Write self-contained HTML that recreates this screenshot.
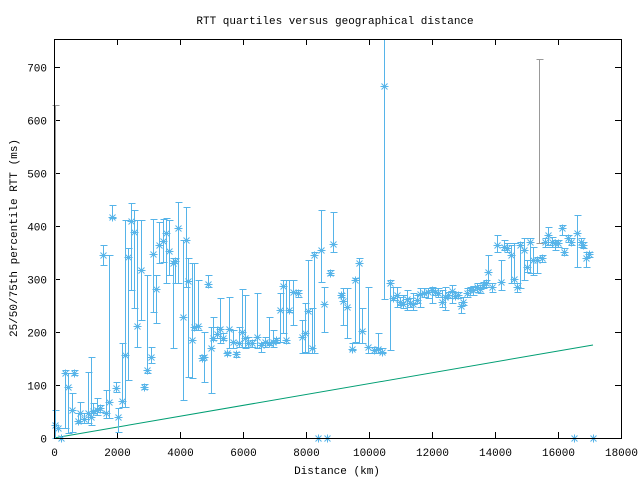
<!DOCTYPE html>
<html><head><meta charset="utf-8"><style>
html,body{margin:0;padding:0;background:#fff;}
svg{display:block;font-family:"Liberation Mono",monospace;font-size:11px;}
</style></head><body>
<svg id="s" width="640" height="480" xmlns="http://www.w3.org/2000/svg">
<rect x="0" y="0" width="640" height="480" fill="#fff"/>
<text x="335" y="24" text-anchor="middle">RTT quartiles versus geographical distance</text>
<text x="337" y="474" text-anchor="middle">Distance (km)</text>
<text transform="translate(17,238) rotate(-90)" text-anchor="middle">25/50/75th percentile RTT (ms)</text>
<g id="ax" stroke="#000" stroke-width="1" fill="none"></g>
<g id="tl"></g>
<polyline points="54,438 593,345" stroke="#009e73" stroke-width="1" fill="none"/>
<g id="gr" stroke="#999" stroke-width="1" fill="none"></g>
<g id="pts" stroke="#56b4e9" stroke-width="1" fill="none"></g>
<rect x="54.5" y="39.5" width="567" height="399" fill="none" stroke="#000"/>
</svg>
<script>
var ns="http://www.w3.org/2000/svg";
function el(p,t,a,txt){var e=document.createElementNS(ns,t);for(var k in a)e.setAttribute(k,a[k]);if(txt!=null)e.textContent=txt;document.getElementById(p).appendChild(e);}
for(var v=0;v<=700;v+=100){var y=Math.round(438-v*0.53)+0.5;
 el("ax","line",{x1:54,y1:y,x2:60,y2:y});el("ax","line",{x1:621,y1:y,x2:615,y2:y});
 el("tl","text",{x:47,y:y+4,"text-anchor":"end"},String(v));}
for(var v=0;v<=18000;v+=2000){var x=Math.round(54+v*567/18000)+0.5;
 el("ax","line",{x1:x,y1:438,x2:x,y2:432});el("ax","line",{x1:x,y1:39,x2:x,y2:45});
 el("tl","text",{x:x,y:456,"text-anchor":"middle"},String(v));}
var z1=[[45,735,690,775],[55,745],[62,775],[75,580,570,745],[85,622,580,760],[95,690,640,755],[103,578,570,585],[113,722,700,730],[120,700,665,730],[133,718,700,730],[143,700,575,730],[152,710,530,735],[160,692,670,700],[170,690,655,705],[180,685,675,695],[190,225,195,255],[198,698,630,715],[208,665,225,715],[215,110,75,115],[228,625,605,635],[235,710,685,755],[245,662,490,680],[255,525,120,680],[265,232,205,600],[273,123,70,330],[283,157,90,385],[292,437,120,500],[303,270,120,420],[312,620,612,628],[320,570,285,580],[332,530,500,550],[340,222,118,395],[349,327,285,430],[358,195,125,250],[368,182,118,245],[378,160,115,310],[388,212,120,285],[398,248,235,505],[405,242,235,310],[415,143,65,310],[428,410,180,660],[437,180,80,320],[445,302,235,590],[455,480,250,595],[463,440,250,450],[473,437,300,450],[485,535,525,540],[492,532,455,605],[503,312,285,320],[512,503,440,640],[520,475,410,480],[530,463,440,475],[540,447,355,490],[550,475,460,480],[560,520,515,525],[568,448,352,505],[578,487,450,505],[587,522,515,530],[597,490,440,500],[605,457,328,500],[615,475,345,505],[625,490,470,500],[637,490,480,500],[652,470,338,505],[663,495,490,515],[675,485,470,500],[688,490,410,495],[698,485,450,500],[708,480,475,490],[720,390,340,485],[728,318,300,460],[738,480,300,490],[748,390,300,395],[760,335,300,435],[775,340,330,350],[785,472,420,520],[795,460,370,515],[805,392,240,520],[815,505,385,520],[822,225,215,520],[833,773],[843,210,90,305],[852,373,320,455],[862,773],[870,280,270,285],[880,192,95,215]];
var z2=[[122,345,340,350],[130,363,325,435],[140,380,325,475],[157,508,490,510],[165,300,295,485],[178,250,235,490],[187,452,385,490],[205,500,320,520],[222,510,500,520],[235,508,460,520],[245,515,505,520],[270,310,300,510],[280,355,320,360],[290,345,320,380],[300,365,350,375],[310,372,345,385],[320,358,330,390],[330,370,355,380],[340,373,340,390],[350,360,345,370],[360,342,325,380],[372,340,325,350],[385,335,325,355],[395,330,320,370],[405,335,325,345],[415,338,325,350],[425,365,330,380],[435,352,320,390],[445,345,335,355],[455,333,315,370],[465,348,335,355],[473,345,335,355],[482,378,365,400],[490,365,350,375],[500,340,325,350],[510,330,320,345],[520,330,318,345],[530,320,310,335],[540,328,315,340],[550,315,305,325],[558,308,300,320],[565,275,225,310],[575,322,310,335],[590,195,165,215],[603,305,240,330],[612,200,180,210],[622,205,190,215],[632,225,195,310],[643,298,190,310],[652,320,310,335],[660,195,185,325],[672,210,175,300],[682,262,240,275],[690,185,175,280],[700,240,200,285],[710,240,230,280],[725,235,225,245],[735,185,175,200],[745,165,140,195],[755,185,170,200],[765,190,180,210],[775,190,180,200],[785,145,135,165],[793,215,205,225],[803,175,165,185],[812,185,175,195],[830,158,105,260],[842,185,175,200],[850,195,185,205],[858,235,215,260],[868,222,215,230],[822,773],[880,773]];
var P=[];
z1.forEach(function(d){P.push([40+d[0]/3,180+d[1]/3,d.length>2?180+d[2]/3:null,d.length>2?180+d[3]/3:null]);});
z2.forEach(function(d){P.push([300+d[0]/3,180+d[1]/3,d.length>2?180+d[2]/3:null,d.length>2?180+d[3]/3:null]);});
P.push([384,86,39,299]);
function bar(g,x,a,b){el(g,"line",{x1:x,y1:a,x2:x,y2:b});
  if(a>39)el(g,"line",{x1:x-3,y1:a,x2:x+4,y2:a});
  el(g,"line",{x1:x-3,y1:b,x2:x+4,y2:b});}
bar("gr",55.5,105.5,425.5);bar("gr",539.5,59.5,243.5);
P.forEach(function(p){var x=Math.round(p[0])+0.5,y=Math.round(p[1])+0.5;
 if(p[2]!=null){bar("pts",x,Math.round(p[2])+0.5,Math.round(Math.min(p[3],438))+0.5);}
 el("pts","path",{d:"M"+(x-4)+" "+y+"h8M"+x+" "+(y-4)+"v8M"+(x-3)+" "+(y-3)+"l6 6M"+(x-3)+" "+(y+3)+"l6 -6"});
});
</script>
</body></html>
